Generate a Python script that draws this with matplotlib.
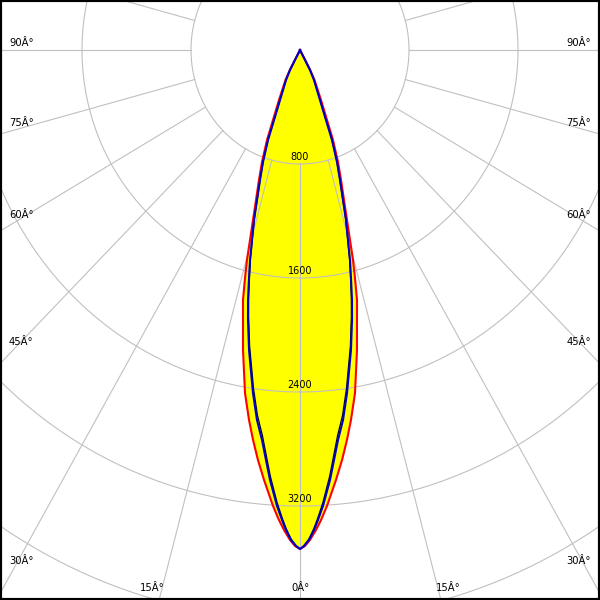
import numpy as np
import matplotlib
matplotlib.use('Agg')
import matplotlib.pyplot as plt
from matplotlib.patches import Rectangle

# gamma angles (deg) and luminous intensity (cd)
red_gamma = [0, 0.60, 1.22, 2.00, 2.68, 3.54, 5.00, 6.12, 7.18, 8.20, 9.52,
             11.24, 12.45, 13.41, 14.16, 14.79, 15.39, 16.13, 17.05, 18.26,
             19.54, 20.98, 21.97, 23.71, 26.82, 28.0, 28.2, 30]
red_cd = [3502, 3481, 3439, 3370, 3302, 3206, 3029, 2894, 2758, 2623, 2441,
          2146, 1940, 1804, 1650, 1524, 1383, 1242, 1101, 961, 834, 676, 530,
          383, 236, 159, 80, 0]

blue_gamma = [0, 0.48, 1.10, 1.75, 2.29, 3.02, 4.17, 4.96, 5.82, 6.93, 8.16,
              10.08, 11.39, 12.27, 13.17, 13.98, 14.80, 15.80, 16.69, 17.84,
              19.06, 20.4, 21.2, 22.7, 26.0, 27.6, 27.8, 30]
blue_cd = [3502, 3481, 3439, 3370, 3301, 3204, 3026, 2888, 2751, 2616, 2432,
           2138, 1933, 1795, 1643, 1519, 1379, 1240, 1099, 958, 832, 674, 527,
           380, 234, 158, 79, 0]

black_gamma = blue_gamma
black_cd = [3502, 3478, 3432, 3358, 3285, 3182, 2998, 2858, 2720, 2585, 2402,
            2112, 1910, 1774, 1625, 1503, 1366, 1230, 1091, 952, 828, 672, 526,
            380, 234, 158, 79, 0]

rings = [800, 1600, 2400, 3200, 4000]
ring_labels = ['800', '1600', '2400', '3200']
spokes = list(range(0, 360, 15))

# angle labels: text, pixel x, pixel y, alignment
angle_labels = [('90Â°', 9, 43, 'left'), ('75Â°', 9, 123, 'left'),
                ('60Â°', 9, 215, 'left'), ('45Â°', 9, 342, 'left'),
                ('30Â°', 9, 561, 'left'),
                ('90Â°', 591, 43, 'right'), ('75Â°', 591, 123, 'right'),
                ('60Â°', 591, 215, 'right'), ('45Â°', 591, 342, 'right'),
                ('30Â°', 591, 561, 'right'),
                ('15Â°', 152, 588, 'center'), ('0Â°', 300, 588, 'center'),
                ('15Â°', 448, 588, 'center')]

# pixels per cd (the source image was stretched a bit)
sx = 109 / 800
sy = 114 / 800
cx, cy = 300, 50

fig = plt.figure(figsize=(6, 6), dpi=100)
ax = fig.add_axes([0, 0, 1, 1])
ax.set_xlim(-cx / sx, (600 - cx) / sx)
ax.set_ylim(-(600 - cy) / sy, cy / sy)
ax.axis('off')

GRID = '#c0c0c0'


def to_xy(g, i, side):
    g = np.radians(np.array(g, dtype=float))
    i = np.array(i, dtype=float)
    return side * i * np.sin(g), -i * np.cos(g)


def outline(g, vals):
    xr, yr = to_xy(g[::-1], vals[::-1], 1)
    xl, yl = to_xy(g, vals, -1)
    return np.concatenate([xr, xl]), np.concatenate([yr, yl])


# fill
fx, fy = outline(red_gamma, red_cd)
ax.fill(fx, fy, color='#ffff00', zorder=1, lw=0)

# grid
t = np.linspace(0, 2 * np.pi, 400)
for r in rings:
    ax.plot(r * np.sin(t), -r * np.cos(t), color=GRID, lw=0.8, zorder=2)
for a in spokes:
    ar = np.radians(a)
    ax.plot([800 * np.sin(ar), 8000 * np.sin(ar)],
            [-800 * np.cos(ar), -8000 * np.cos(ar)], color=GRID, lw=0.8, zorder=2)

for r, lab in zip(rings, ring_labels):
    ax.annotate(lab, (0, -r), xytext=(0, 1.5), textcoords='offset points',
                ha='center', va='bottom', fontsize=7, color='black', zorder=3)

# curves
for g, vals, col, lw, z in [(red_gamma, red_cd, '#ff0000', 1.5, 4),
                            (black_gamma, black_cd, '#000000', 0.9, 5),
                            (blue_gamma, blue_cd, '#0000cc', 1.5, 6)]:
    px, py = outline(g, vals)
    ax.plot(px, py, color=col, lw=lw, zorder=z, solid_joinstyle='round')

for txt, x, y, ha in angle_labels:
    fig.text(x / 600, 1 - y / 600, txt, ha=ha, va='center', fontsize=7.2,
             color='black')

fig.patches.append(Rectangle((0, 0), 1, 1, transform=fig.transFigure,
                             fill=False, edgecolor='black', lw=3))

fig.savefig('out.png', dpi=100)
